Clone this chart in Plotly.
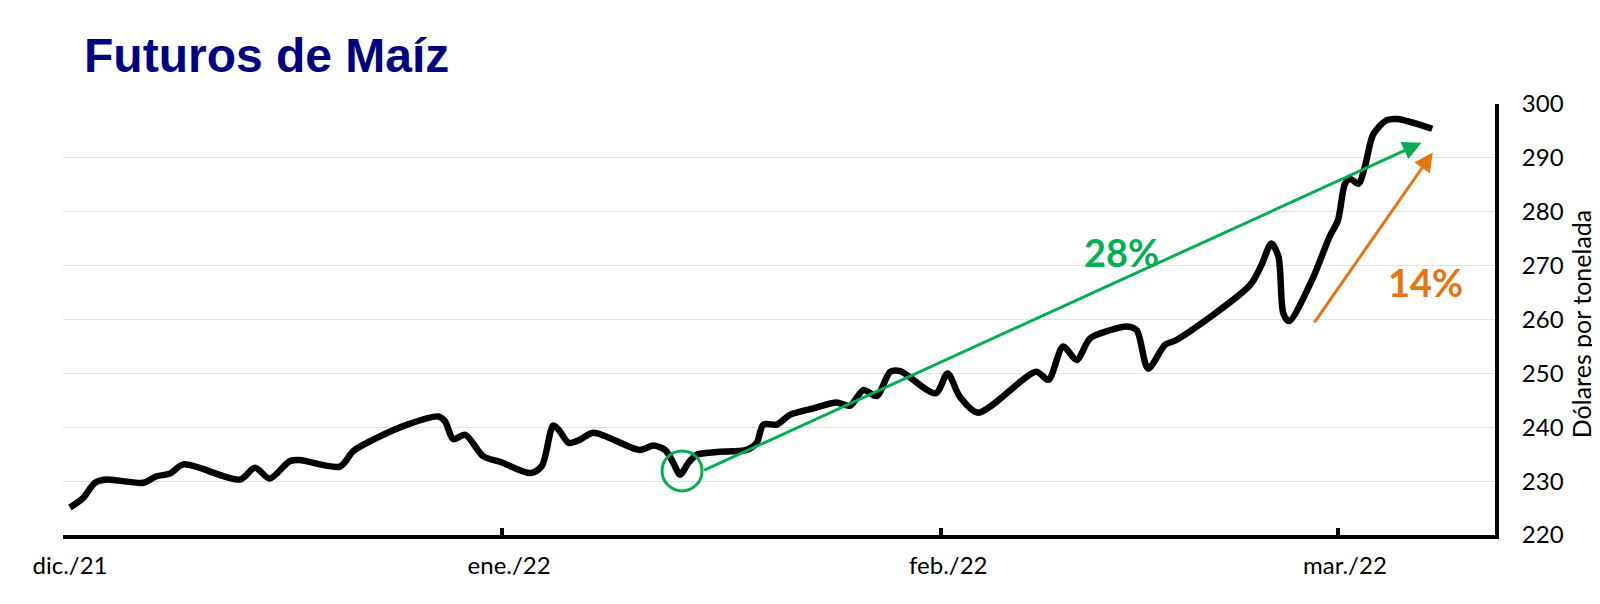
import plotly.graph_objects as go
import pandas as pd

# ---- data ----
day_offset = [0.49, 1.43, 2.26, 3.08, 5.67, 6.6, 7.55, 8.5, 12.5, 13.55, 14.6, 16.0, 16.7,
              19.55, 20.5, 21.9, 24.3, 26.5, 26.97, 27.55, 28.4, 29.67, 30.85, 33.0, 33.8,
              34.6, 35.0, 35.7, 36.5, 37.44, 40.7, 41.67, 42.5, 43.08, 43.56, 44.15, 44.73,
              46.15, 48.27, 48.97, 49.44, 50.38, 51.32, 52.97, 54.6, 55.56, 56.5, 57.44,
              58.4, 59.1, 61.6, 62.45, 63.3, 64.6, 68.7, 69.56, 70.6, 71.56, 72.5, 73.9,
              75.1, 75.8, 76.6, 77.8, 78.6, 83.8, 84.6, 85.3, 85.8, 86.15, 86.55, 88.2,
              89.4, 90.0, 90.5, 90.86, 91.45, 91.9, 92.5, 93.45, 94.2, 96.66]
price = [225.1, 226.9, 229.7, 230.3, 229.7, 230.9, 231.4, 233.1, 230.3, 232.5, 230.5, 233.7, 233.9,
         232.7, 235.6, 237.7, 240.5, 242.0, 241.1, 237.8, 238.6, 234.6, 233.6, 231.5, 232.8,
         240.3, 239.5, 237.1, 237.7, 239.0, 235.8, 236.6, 235.8, 233.4, 231.2, 233.4, 234.9,
         235.4, 235.8, 237.1, 240.5, 240.5, 242.3, 243.5, 244.6, 244.0, 246.9, 245.8,
         250.3, 250.4, 246.3, 250.0, 245.7, 242.7, 250.3, 248.8, 255.0, 252.5, 256.5, 258.0,
         258.7, 258.0, 250.9, 255.3, 256.2, 266.4, 270.1, 274.1, 271.7, 261.1, 259.7, 267.5,
         275.3, 278.4, 285.2, 286.1, 285.2, 288.3, 294.4, 297.0, 297.2, 295.4]
tick_dates = ["2021-12-01", "2022-01-01", "2022-02-01", "2022-03-01"]
tick_labels = ["dic./21", "ene./22", "feb./22", "mar./22"]
y_ticks = [220, 230, 240, 250, 260, 270, 280, 290, 300]
y_title = "Dólares por tonelada"

# annotation anchors (day offset, value)
circle_pt = (43.7, 231.9)
green_arrow = [(45.16, 231.9), (95.9, 292.8)]
orange_arrow = [(88.27, 259.2), (96.7, 291.0)]
label_28 = (74.7, 272.6)
label_14 = (96.2, 267.0)

start = pd.Timestamp("2021-12-01")
def d(off):
    return start + pd.Timedelta(days=off)

dates = [d(o) for o in day_offset]

GREEN = "#00B050"
ORANGE = "#E8740F"
NAVY = "#000080"
FONT = "Lato"

fig = go.Figure()
fig.add_trace(go.Scatter(
    x=dates, y=price, mode="lines",
    line=dict(color="black", width=6.5, shape="spline", smoothing=0.8),
    hoverinfo="skip", showlegend=False,
))

fig.add_shape(type="circle", xref="x", yref="y",
              xsizemode="pixel", ysizemode="pixel",
              xanchor=d(circle_pt[0]), yanchor=circle_pt[1],
              x0=-20, x1=20, y0=-20, y1=20,
              line=dict(color=GREEN, width=3))

for (tail, tip, col) in [(green_arrow[0], green_arrow[1], GREEN),
                         (orange_arrow[0], orange_arrow[1], ORANGE)]:
    fig.add_annotation(x=d(tip[0]), y=tip[1], ax=d(tail[0]), ay=tail[1],
                       xref="x", yref="y", axref="x", ayref="y",
                       text="", showarrow=True, arrowhead=2, arrowsize=1.25,
                       arrowwidth=3, arrowcolor=col)

fig.add_annotation(x=d(label_28[0]), y=label_28[1], xref="x", yref="y",
                   text="<b>28%</b>", showarrow=False,
                   font=dict(family=FONT, size=38, color=GREEN))
fig.add_annotation(x=d(label_14[0]), y=label_14[1], xref="x", yref="y",
                   text="<b>14%</b>", showarrow=False,
                   font=dict(family=FONT, size=38, color=ORANGE))

fig.add_annotation(x=(82 - 63) / 1432, y=1.1125, xref="paper", yref="paper",
                   xanchor="left", yanchor="middle", showarrow=False,
                   text="<b>Futuros de Maíz</b>",
                   font=dict(family="Liberation Sans", size=48, color=NAVY))

# y-axis title placed to the right of the tick labels
fig.add_annotation(x=1 + (1581 - 1495) / 1432, y=0.489, xref="paper", yref="paper",
                   xanchor="center", yanchor="middle", showarrow=False,
                   textangle=-90, text=y_title,
                   font=dict(family=FONT, size=25, color="black"))

# the page body adds an 8 px offset; size the figure so it fits the window
fig.update_layout(
    width=1592, height=596,
    margin=dict(l=55, r=105, t=96, b=69),
    paper_bgcolor="white", plot_bgcolor="white",
    showlegend=False,
    font=dict(family=FONT, size=24, color="black"),
)
fig.update_xaxes(
    range=[d(0), d(101.09)],
    tickvals=tick_dates, ticktext=tick_labels,
    showgrid=False, zeroline=False,
    showline=True, linecolor="black", linewidth=4,
    ticks="inside", ticklen=7, tickwidth=4, tickcolor="black",
    ticklabelstandoff=6, ticklabelshift=7,
    tickfont=dict(family=FONT, size=24, color="black"),
)
fig.update_yaxes(
    range=[220, 300], side="right",
    tickvals=y_ticks,
    showgrid=True, gridcolor="#DCE3EC", gridwidth=1,
    zeroline=False,
    showline=True, linecolor="black", linewidth=4,
    ticks="", ticklabelstandoff=18,
    tickfont=dict(family=FONT, size=24, color="black"),
)

fig.write_html("out.html")
